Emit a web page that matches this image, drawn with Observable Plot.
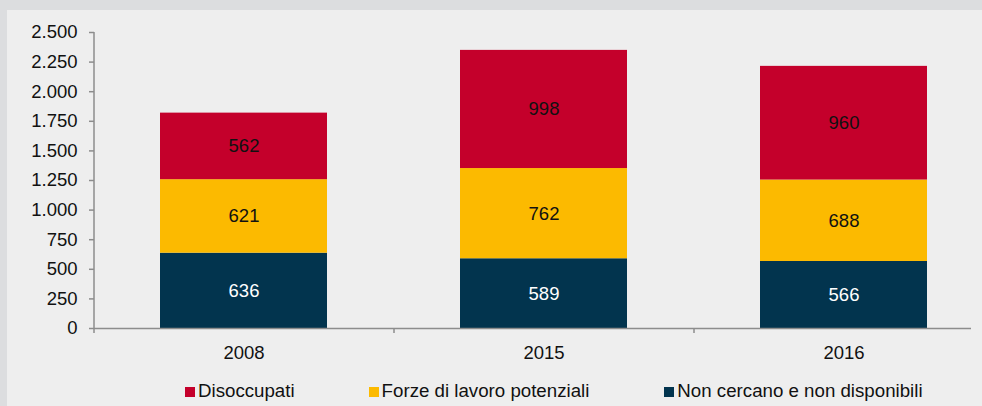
<!DOCTYPE html>
<html>
<head>
<meta charset="utf-8">
<script src="https://cdn.jsdelivr.net/npm/d3@7"></script>
<script src="https://cdn.jsdelivr.net/npm/@observablehq/plot@0.6"></script>
<style>
  html, body { margin: 0; padding: 0; overflow: hidden; }
  body {
    width: 975px; height: 396px;
    background: #eeeeee;
    border-top: 10px solid #dcdddf;
    border-left: 7px solid #dcdddf;
    font-family: "Liberation Sans", Arial, sans-serif;
  }
  #chart svg { display: block; overflow: visible; }
  #legend {
    display: flex; align-items: baseline;
    margin-top: 10px; padding-left: 178px;
    font-size: 18.7px; line-height: 22px; color: #111;
  }
  #legend .item { display: flex; align-items: baseline; }
  #legend .sw { display: inline-block; width: 10px; height: 10px; margin-right: 3px; }
</style>
</head>
<body>
<div id="chart"></div>
<div id="legend"></div>
<script>
const years = ["2008", "2015", "2016"];
const seriesNames = ["Non cercano e non disponibili", "Forze di lavoro potenziali", "Disoccupati"];
const nonCercano = [636, 589, 566];
const forzeLavoro = [621, 762, 688];
const disoccupati = [562, 998, 960];
const yTicks = [0, 250, 500, 750, 1000, 1250, 1500, 1750, 2000, 2250, 2500];
const colors = ["#02344e", "#fcba00", "#c4002b"];
const legendOrder = ["Disoccupati", "Forze di lavoro potenziali", "Non cercano e non disponibili"];

const valuesBySeries = [nonCercano, forzeLavoro, disoccupati];
const data = [];
years.forEach((yr, i) => {
  seriesNames.forEach((s, j) => data.push({year: yr, series: s, value: valuesBySeries[j][i]}));
});

const itFmt = d3.formatLocale({decimal: ",", thousands: ".", grouping: [3], currency: ["€", ""]}).format(",");

const W = 975, H = 360;
const xRange = [87, 987];
const step = (xRange[1] - xRange[0]) / years.length;
const darkSeries = seriesNames[0];

const chart = Plot.plot({
  width: W,
  height: H,
  marginLeft: 87,
  marginRight: 11,
  marginTop: 22,
  marginBottom: 42,
  style: {background: "transparent", fontFamily: "'Liberation Sans', Arial, sans-serif", fontSize: "18.5px", color: "#111", overflow: "visible"},
  x: {domain: years, range: xRange, paddingInner: 0.443, paddingOuter: 0.2215, label: null},
  y: {domain: [0, yTicks[yTicks.length - 1]], label: null},
  color: {domain: seriesNames, range: colors},
  marks: [
    Plot.barY(data, {x: "year", y: "value", fill: "series"}),
    Plot.text(data, Plot.stackY({x: "year", y: "value", z: "series",
      text: d => d.series === darkSeries ? "" : itFmt(d.value), fill: "#111"})),
    Plot.text(data, Plot.stackY({x: "year", y: "value", z: "series",
      text: d => d.series === darkSeries ? itFmt(d.value) : "", fill: "#ffffff"})),
    Plot.axisY({ticks: yTicks, tickSize: 5, tickPadding: 12, tickFormat: itFmt, stroke: "#8c8c8c", strokeWidth: 1.5, label: null, fill: "#111"}),
    Plot.ruleX([years[0]], {y1: 0, y2: yTicks[yTicks.length - 1], dx: -step / 2, stroke: "#8c8c8c", strokeWidth: 1.5}),
    Plot.axisX({tickSize: 5, tickFormat: () => "", dx: -step / 2, stroke: "#8c8c8c", strokeWidth: 1.5, label: null}),
    Plot.axisX({tickSize: 0, tickPadding: 17, label: null, fill: "#111"}),
    Plot.ruleY([0], {stroke: "#8c8c8c", strokeWidth: 1.5})
  ]
});
document.getElementById("chart").appendChild(chart);

const legend = document.getElementById("legend");
const gaps = [74, 75, 0];
legendOrder.forEach((name, i) => {
  const item = document.createElement("span");
  item.className = "item";
  item.style.marginRight = gaps[i] + "px";
  const sw = document.createElement("span");
  sw.className = "sw";
  sw.style.background = colors[seriesNames.indexOf(name)];
  const label = document.createElement("span");
  label.textContent = name;
  item.appendChild(sw);
  item.appendChild(label);
  legend.appendChild(item);
});
</script>
</body>
</html>
